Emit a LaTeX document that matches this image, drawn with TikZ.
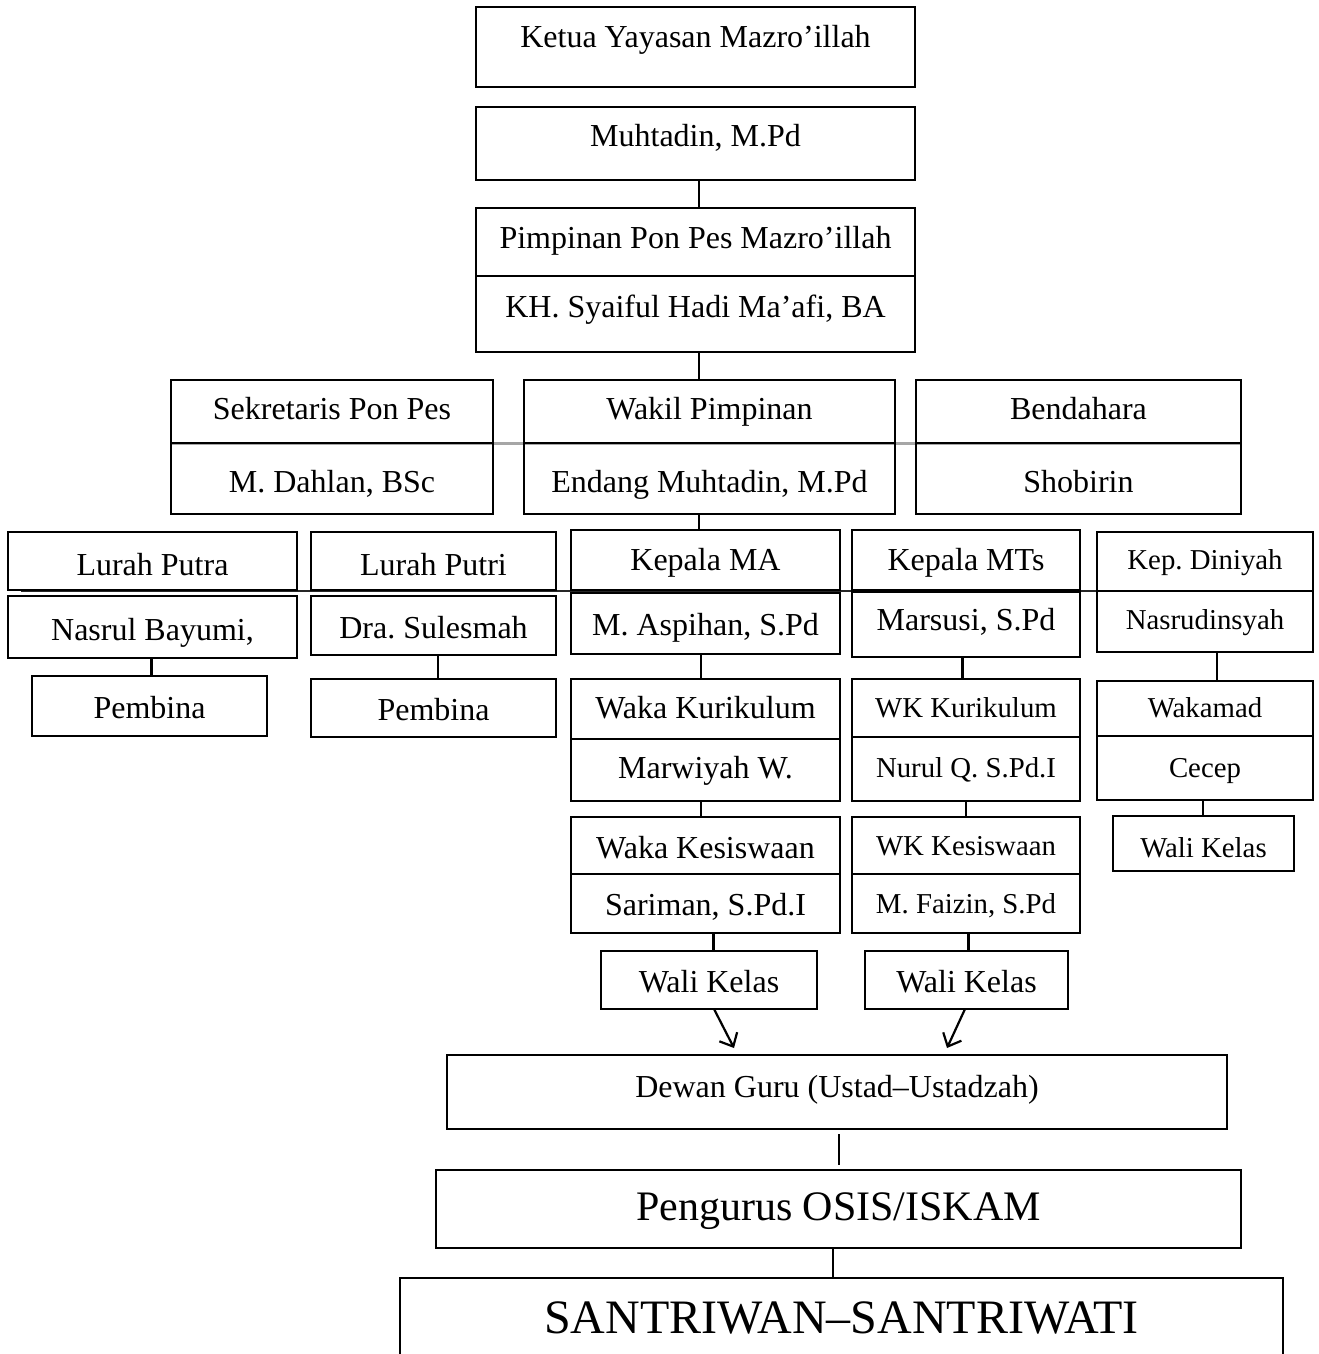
\documentclass[tikz,border=0pt]{standalone}
\usepackage{fontspec}
\setmainfont{Liberation Serif}
\usetikzlibrary{arrows.meta,calc}
\frenchspacing
\newcommand\fnorm{\fontsize{32}{38}\selectfont}
\newcommand\fsmall{\fontsize{28.8}{34}\selectfont}
\newcommand\fosis{\fontsize{42}{50}\selectfont}
\newcommand\fsantri{\fontsize{48}{56}\selectfont}
\newcommand\obox[7][]{\node[box,minimum width={(#5-#3)*1pt},minimum height={(#6-#4)*1pt},#1] (#2) at ({(#3+#5)/2},{(#4+#6)/2}) {#7};}
\begin{document}
\begin{tikzpicture}[x=1pt,y=-1pt,
  box/.style={draw,line width=2.8pt,inner sep=0pt,outer sep=0pt,font=\fnorm,text height=20pt,text depth=0pt},
  sm/.style={font=\fsmall},
  bl/.style={text height=#1,text depth=0pt},
  conn/.style={line width=2.4pt},
  arr/.style={line width=2.2pt,-{Straight Barb[length=11pt,width=20pt,line width=2.2pt]}}]
\useasboundingbox (0,0) rectangle (1318,1354);

% top
\obox[bl=1pt]{ketua}{476}{7}{915}{87}{Ketua Yayasan Mazro’illah}
\obox[bl=5pt]{muht}{476}{107}{915}{180}{Muhtadin, M.Pd}
\obox[bl=12pt]{pimA}{476}{208}{915}{276}{Pimpinan Pon Pes Mazro’illah}
\obox[bl=6pt]{pimB}{476}{276}{915}{352}{KH. Syaiful Hadi Ma’afi, BA}

% second level
\draw[gray!70,line width=3pt] (171,443) -- (1241,443);
\obox[bl=16pt]{sekA}{171}{380}{493}{443}{Sekretaris Pon Pes}
\obox[bl=28pt]{sekB}{171}{443}{493}{514}{M. Dahlan, BSc}
\obox[bl=16pt]{wakA}{524}{380}{895}{443}{Wakil Pimpinan}
\obox[bl=28pt]{wakB}{524}{443}{895}{514}{Endang Muhtadin, M.Pd}
\obox[bl=16pt]{benA}{916}{380}{1241}{443}{Bendahara}
\obox[bl=28pt]{benB}{916}{443}{1241}{514}{Shobirin}

\coordinate (spine) at (699,366);
\draw[conn] (spine |- muht.south) -- (spine |- pimA.north);
\draw[conn] (spine |- pimB.south) -- (spine |- wakA.north);
\draw[conn] (spine |- wakB.south) -- (spine |- 0,530);

% third level horizontal line
\coordinate (hlA) at (21,591);
\coordinate (hlB) at (1113,591);
\draw[black!85,line width=2.6pt] (hlA) -- (hlB);

% Lurah Putra
\obox[bl=28pt]{lpaA}{8}{532}{297}{590}{Lurah Putra}
\obox[bl=26pt]{lpaB}{8}{596}{297}{658}{Nasrul Bayumi,}
\obox[bl=25pt]{lpaC}{32}{676}{267}{736}{Pembina}
% Lurah Putri
\obox[bl=28pt]{lpiA}{311}{532}{556}{590}{Lurah Putri}
\obox[bl=26pt]{lpiB}{311}{596}{556}{655}{Dra. Sulesmah}
\obox[bl=25pt]{lpiC}{311}{679}{556}{737}{Pembina}
% MA
\obox[bl=20pt]{maA}{571}{530}{840}{590}{Kepala MA}
\obox[bl=23pt]{maB}{571}{593}{840}{654}{M. Aspihan, S.Pd}
\obox[bl=18pt]{maC}{571}{679}{840}{739}{Waka Kurikulum}
\obox[bl=16pt]{maD}{571}{739}{840}{801}{Marwiyah W.}
\obox[bl=25pt]{maE}{571}{817}{840}{874}{Waka Kesiswaan}
\obox[bl=23pt]{maF}{571}{874}{840}{933}{Sariman, S.Pd.I}
\obox[bl=24pt]{maW}{601}{951}{817}{1009}{Wali Kelas}
% MTs
\obox[bl=20pt]{mtA}{852}{530}{1080}{590}{Kepala MTs}
\obox[bl=11pt]{mtB}{852}{592}{1080}{657}{Marsusi, S.Pd}
\obox[sm,bl=18pt]{mtC}{852}{679}{1080}{737}{WK Kurikulum}
\obox[sm,bl=16pt]{mtD}{852}{737}{1080}{801}{Nurul Q. S.Pd.I}
\obox[sm,bl=19pt]{mtE}{852}{817}{1080}{874}{WK Kesiswaan}
\obox[sm,bl=19pt]{mtF}{852}{874}{1080}{933}{M. Faizin, S.Pd}
\obox[bl=24pt]{mtW}{865}{951}{1068}{1009}{Wali Kelas}
% Diniyah
\obox[sm,bl=16pt]{dnA}{1097}{532}{1313}{591}{Kep. Diniyah}
\obox[sm,bl=16pt]{dnB}{1097}{591}{1313}{652}{Nasrudinsyah}
\obox[sm,bl=17pt]{dnC}{1097}{681}{1313}{736}{Wakamad}
\obox[sm,bl=19pt]{dnD}{1097}{736}{1313}{800}{Cecep}
\obox[sm,bl=27pt]{dnW}{1113}{816}{1294}{871}{Wali Kelas}

% vertical connectors
\draw[conn] ([xshift=-1pt]lpaB.south) -- ([xshift=-1pt]lpaB.south |- lpaC.north);
\draw[conn] ([xshift=4.5pt]lpiB.south) -- ([xshift=4.5pt]lpiB.south |- lpiC.north);
\draw[conn] ([xshift=-4.5pt]maB.south) -- ([xshift=-4.5pt]maB.south |- maC.north);
\draw[conn] ([xshift=-4.5pt]maD.south) -- ([xshift=-4.5pt]maD.south |- maE.north);
\draw[conn] ([xshift=8pt]maF.south) -- ([xshift=8pt]maF.south |- maW.north);
\draw[conn] ([xshift=-3.5pt]mtB.south) -- ([xshift=-3.5pt]mtB.south |- mtC.north);
\draw[conn] (mtD.south) -- (mtD.south |- mtE.north);
\draw[conn] ([xshift=2.5pt]mtF.south) -- ([xshift=2.5pt]mtF.south |- mtW.north);
\draw[conn] ([xshift=12pt]dnB.south) -- ([xshift=12pt]dnB.south |- dnC.north);
\draw[conn] ([xshift=-2pt]dnD.south) -- ([xshift=-2pt]dnD.south |- dnW.north);

% bottom
\obox[bl=10pt]{dewan}{447}{1055}{1227}{1129}{Dewan Guru (Ustad–Ustadzah)}
\obox[font=\fosis,bl=22pt]{osis}{436}{1170}{1241}{1248}{Pengurus OSIS/ISKAM}
\obox[font=\fsantri,bl=28pt]{santri}{400}{1278}{1283}{1360}{SANTRIWAN–SANTRIWATI}

\coordinate (tipA) at (734,1048);
\coordinate (tipB) at (947,1048);
\draw[arr] ([xshift=5pt]maW.south) -- (tipA);
\draw[arr] ([xshift=-1.5pt]mtW.south) -- (tipB);
\draw[conn,shorten <=5pt,shorten >=5pt] ([xshift=2pt]dewan.south) -- ([xshift=2pt]dewan.south |- osis.north);
\draw[conn] ([xshift=-5.5pt]osis.south) -- ([xshift=-5.5pt]osis.south |- santri.north);
\end{tikzpicture}
\end{document}
